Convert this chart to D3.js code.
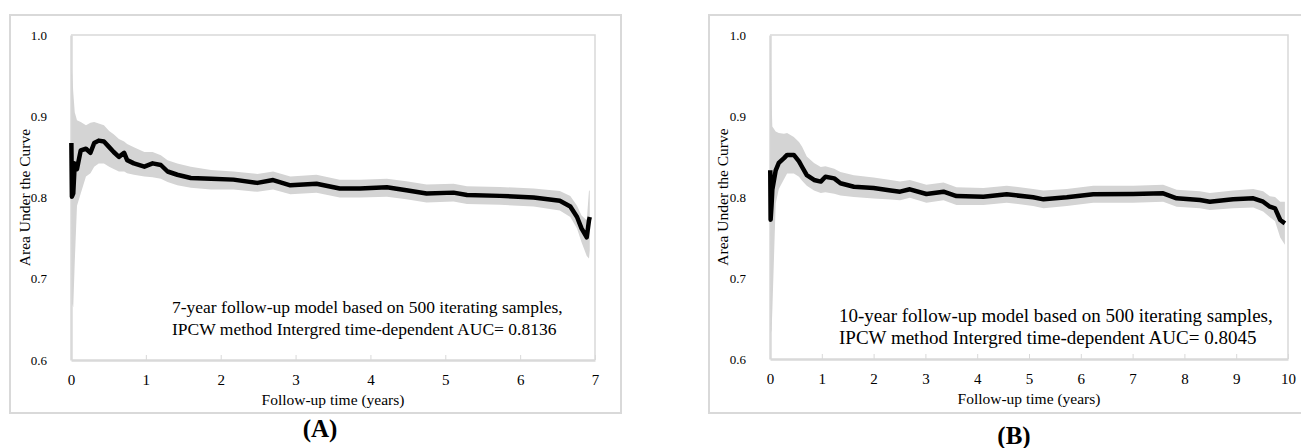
<!DOCTYPE html>
<html>
<head>
<meta charset="utf-8">
<script src="https://cdn.jsdelivr.net/npm/d3@7"></script>
<style>
  body { margin: 0; background: #fff; }
  text { font-family: "Liberation Serif", "Times New Roman", serif; }
</style>
</head>
<body>
<div id="chart"></div>
<script>
// panel A: 7-year follow-up
const timeA  = [0.005, 0.012, 0.03, 0.05, 0.08, 0.13, 0.20, 0.26, 0.31, 0.37, 0.44, 0.51, 0.57, 0.64, 0.71, 0.75, 0.84, 0.98, 1.09, 1.20, 1.29, 1.42, 1.60, 1.87, 2.17, 2.49, 2.70, 2.93, 3.28, 3.59, 3.86, 4.22, 4.48, 4.75, 5.11, 5.29, 5.73, 6.18, 6.53, 6.67, 6.76, 6.82, 6.89, 6.92, 6.93];
const meanA  = [0.867, 0.801, 0.805, 0.842, 0.835, 0.858, 0.860, 0.855, 0.867, 0.870, 0.869, 0.862, 0.856, 0.850, 0.855, 0.846, 0.842, 0.838, 0.842, 0.840, 0.832, 0.828, 0.824, 0.823, 0.822, 0.818, 0.8215, 0.815, 0.817, 0.811, 0.811, 0.8125, 0.809, 0.805, 0.806, 0.803, 0.802, 0.800, 0.796, 0.789, 0.776, 0.762, 0.751, 0.772, 0.776];
const lowerA = [0.800, 0.670, 0.665, 0.720, 0.790, 0.805, 0.826, 0.830, 0.838, 0.842, 0.842, 0.838, 0.835, 0.832, 0.832, 0.830, 0.828, 0.826, 0.825, 0.823, 0.819, 0.815, 0.812, 0.810, 0.810, 0.807, 0.810, 0.804, 0.806, 0.800, 0.800, 0.801, 0.798, 0.794, 0.795, 0.792, 0.791, 0.789, 0.784, 0.776, 0.762, 0.745, 0.728, 0.725, 0.735];
const upperA = [0.950, 0.960, 0.930, 0.905, 0.895, 0.893, 0.889, 0.892, 0.893, 0.891, 0.889, 0.882, 0.878, 0.872, 0.869, 0.866, 0.862, 0.856, 0.856, 0.852, 0.846, 0.842, 0.838, 0.834, 0.832, 0.829, 0.832, 0.826, 0.828, 0.822, 0.822, 0.823, 0.820, 0.816, 0.817, 0.814, 0.813, 0.811, 0.808, 0.802, 0.790, 0.778, 0.772, 0.809, 0.808];

// panel B: 10-year follow-up
const timeB  = [0.005, 0.012, 0.03, 0.045, 0.11, 0.17, 0.27, 0.33, 0.46, 0.56, 0.62, 0.71, 0.85, 0.98, 1.07, 1.24, 1.36, 1.62, 2.00, 2.33, 2.51, 2.70, 3.02, 3.35, 3.60, 4.12, 4.57, 5.08, 5.28, 5.73, 6.24, 7.01, 7.59, 7.85, 8.30, 8.49, 8.94, 9.33, 9.52, 9.65, 9.75, 9.85, 9.94];
const meanB  = [0.833, 0.772, 0.790, 0.809, 0.833, 0.842, 0.848, 0.852, 0.852, 0.844, 0.837, 0.827, 0.821, 0.819, 0.825, 0.823, 0.817, 0.8127, 0.811, 0.808, 0.8066, 0.8095, 0.8037, 0.8066, 0.8012, 0.8004, 0.8033, 0.7996, 0.7971, 0.7996, 0.8033, 0.8037, 0.8045, 0.7984, 0.7963, 0.7942, 0.7971, 0.7984, 0.7942, 0.788, 0.786, 0.7716, 0.7675];
const lowerB = [0.790, 0.632, 0.635, 0.660, 0.792, 0.810, 0.822, 0.829, 0.829, 0.825, 0.820, 0.814, 0.808, 0.805, 0.806, 0.804, 0.802, 0.800, 0.798, 0.797, 0.796, 0.799, 0.793, 0.796, 0.790, 0.790, 0.793, 0.789, 0.786, 0.789, 0.793, 0.793, 0.794, 0.788, 0.786, 0.784, 0.786, 0.787, 0.782, 0.775, 0.770, 0.750, 0.741];
const upperB = [0.995, 0.990, 0.920, 0.887, 0.881, 0.879, 0.878, 0.879, 0.874, 0.868, 0.862, 0.850, 0.842, 0.837, 0.838, 0.835, 0.831, 0.827, 0.824, 0.821, 0.819, 0.821, 0.815, 0.818, 0.812, 0.811, 0.814, 0.810, 0.808, 0.810, 0.814, 0.814, 0.815, 0.809, 0.807, 0.805, 0.808, 0.810, 0.807, 0.801, 0.800, 0.794, 0.794];

const yTicks = [0.6, 0.7, 0.8, 0.9, 1.0];

const svg = d3.select("#chart")
    .append("svg")
    .attr("width", 1301)
    .attr("height", 448);

function renderPanel(p) {
    const data = p.time.map((t, i) => ({ t, mean: p.mean[i], lo: p.lower[i], hi: p.upper[i] }));

    // outer frame
    svg.append("rect")
        .attr("x", p.frame[0]).attr("y", p.frame[1])
        .attr("width", p.frame[2]).attr("height", p.frame[3])
        .attr("fill", "none")
        .attr("stroke", "#d9d9d9")
        .attr("stroke-width", 2);

    const x = d3.scaleLinear().domain([0, p.xMax]).range([p.left, p.right]);
    const y = d3.scaleLinear().domain([0.6, 1.0]).range([p.bottom, p.top]);

    // plot area border (top/right)
    svg.append("path")
        .attr("d", `M${p.left},${p.top}H${p.right}V${p.bottom}`)
        .attr("fill", "none")
        .attr("stroke", "#d9d9d9")
        .attr("stroke-width", 1.5);

    // x axis
    const xAxis = svg.append("g")
        .attr("transform", `translate(0,${p.bottom})`)
        .call(d3.axisBottom(x).ticks(p.xMax).tickFormat(d3.format("d"))
            .tickSizeInner(-5).tickSizeOuter(0).tickPadding(14));
    xAxis.select(".domain").attr("stroke", "#d9d9d9").attr("stroke-width", 2.5);
    xAxis.selectAll(".tick line").attr("stroke", "#d9d9d9").attr("stroke-width", 1);
    xAxis.selectAll(".tick text")
        .attr("fill", "#000")
        .style("font-size", "15px")
        .style("font-family", "Liberation Serif");

    // y axis
    const yAxis = svg.append("g")
        .attr("transform", `translate(${p.left},0)`)
        .call(d3.axisLeft(y).tickValues(yTicks).tickFormat(d3.format(".1f"))
            .tickSize(0).tickPadding(24));
    yAxis.select(".domain").attr("stroke", "#d9d9d9").attr("stroke-width", 2.5);
    yAxis.selectAll(".tick text")
        .attr("fill", "#000")
        .style("font-size", "13px")
        .style("font-family", "Liberation Serif");

    // confidence band, then mean curve on top
    const area = d3.area()
        .x((d) => x(d.t))
        .y0((d) => y(d.lo))
        .y1((d) => y(d.hi));

    svg.append("path")
        .datum(data)
        .attr("d", area)
        .attr("fill", "#d4d4d4");

    const line = d3.line()
        .x((d) => x(d.t))
        .y((d) => y(d.mean));

    svg.append("path")
        .datum(data)
        .attr("d", line)
        .attr("fill", "none")
        .attr("stroke", "#000")
        .attr("stroke-width", 4.5)
        .attr("stroke-linejoin", "round");

    svg.append("text")
        .attr("x", (p.left + p.right) / 2)
        .attr("y", p.xLabelY)
        .attr("text-anchor", "middle")
        .style("font-size", "15.5px")
        .text("Follow-up time (years)");

    svg.append("text")
        .attr("transform", `translate(${p.yLabelX},${(p.top + p.bottom) / 2}) rotate(-90)`)
        .attr("text-anchor", "middle")
        .attr("dy", "0.35em")
        .style("font-size", "15.5px")
        .text("Area Under the Curve");

    p.note.forEach((s, i) => {
        svg.append("text")
            .attr("x", p.noteX)
            .attr("y", p.noteY + i * 22)
            .style("font-size", p.noteSize + "px")
            .text(s);
    });

    svg.append("text")
        .attr("x", p.tagX)
        .attr("y", p.tagY)
        .attr("text-anchor", "middle")
        .style("font-size", "25px")
        .style("font-weight", "bold")
        .text(p.tag);
}

renderPanel({
    time: timeA, mean: meanA, lower: lowerA, upper: upperA,
    xMax: 7,
    frame: [10, 15, 611, 398],
    left: 71, right: 595, top: 35, bottom: 360,
    xLabelY: 405, yLabelX: 25,
    note: ["7-year follow-up model based on 500 iterating samples,",
           "IPCW method Intergred time-dependent AUC= 0.8136"],
    noteX: 172, noteY: 313, noteSize: 17.5,
    tag: "(A)", tagX: 320, tagY: 437
});

renderPanel({
    time: timeB, mean: meanB, lower: lowerB, upper: upperB,
    xMax: 10,
    frame: [709, 15, 620, 398],
    left: 770, right: 1288, top: 35, bottom: 359,
    xLabelY: 404, yLabelX: 723,
    note: ["10-year follow-up model based on 500 iterating samples,",
           "IPCW method Intergred time-dependent AUC= 0.8045"],
    noteX: 839, noteY: 322, noteSize: 19,
    tag: "(B)", tagX: 1014, tagY: 444
});
</script>
</body>
</html>
